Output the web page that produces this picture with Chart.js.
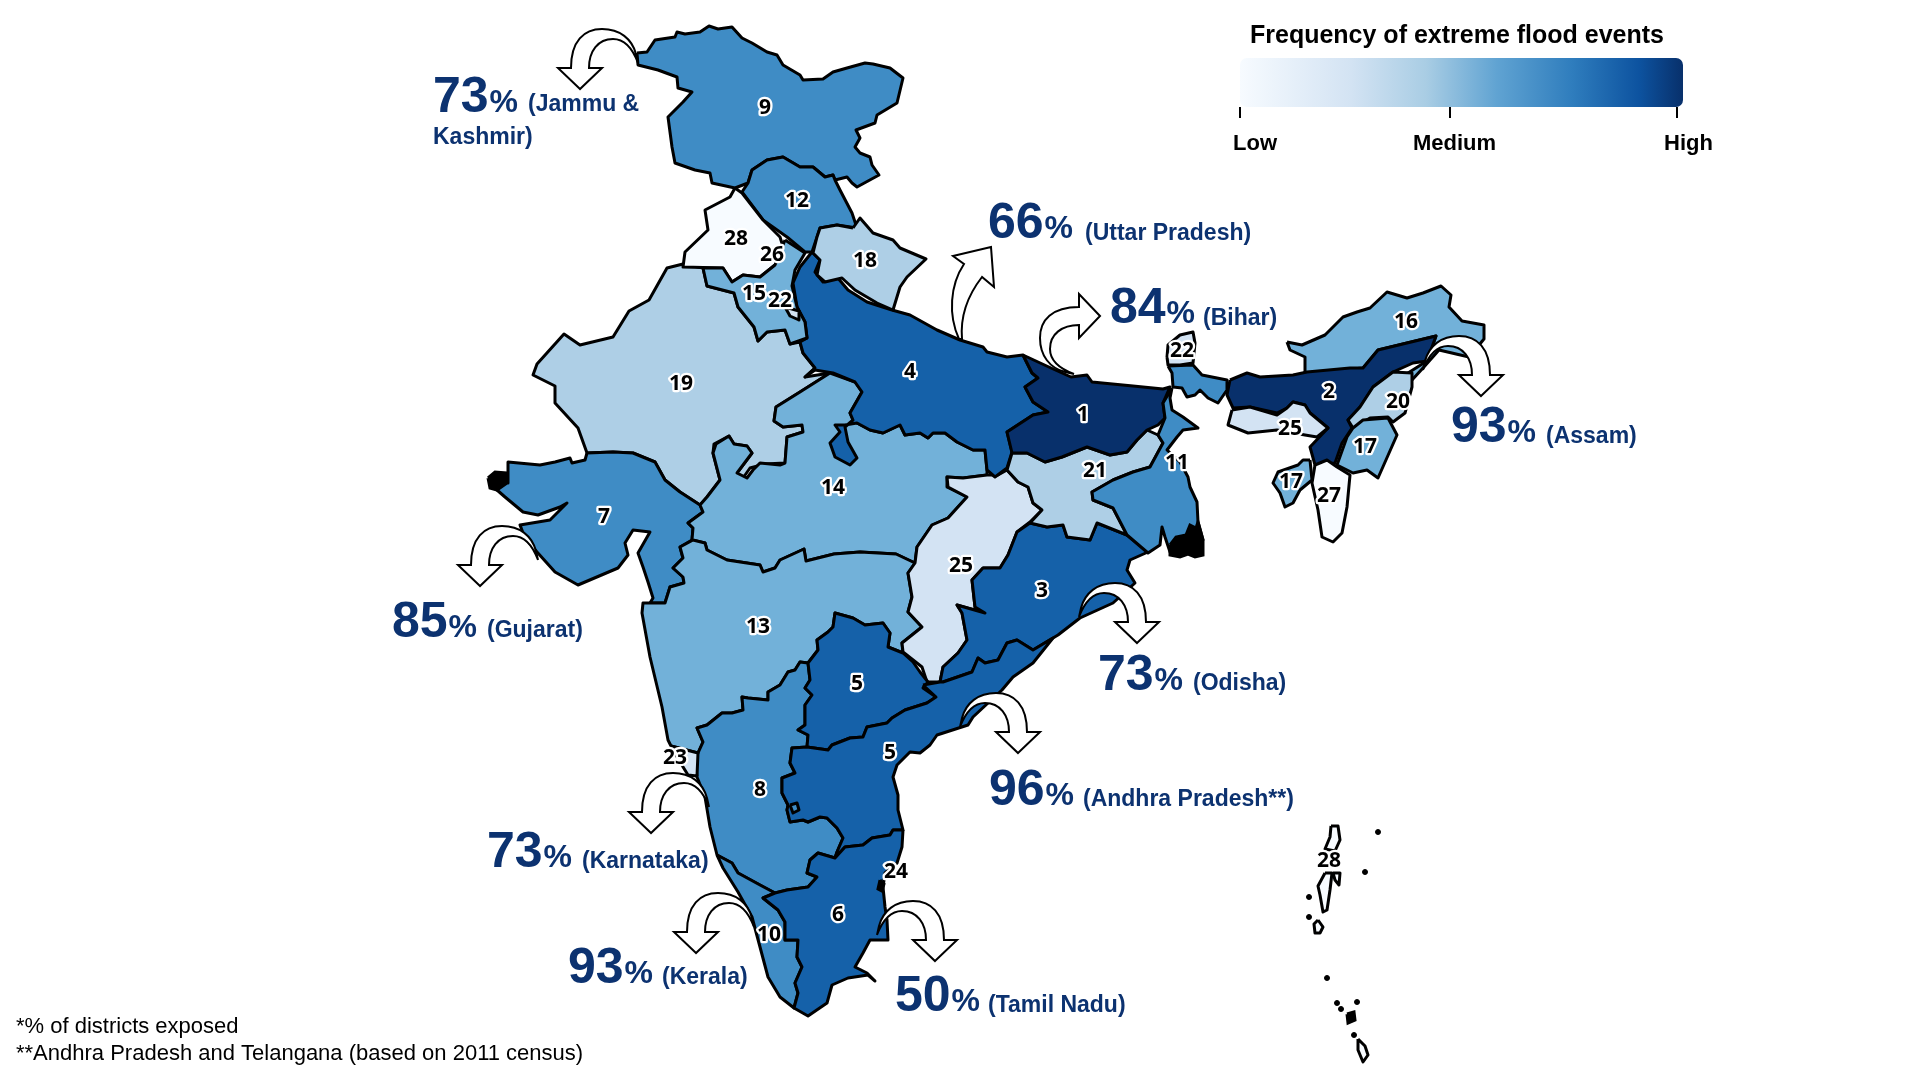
<!DOCTYPE html>
<html lang="en">
<head>
  <meta charset="UTF-8">
  <title>Frequency of extreme flood events</title>
  <script src="https://cdn.jsdelivr.net/npm/chart.js"></script>
  <style>
    html, body { margin: 0; padding: 0; background: #fff; }
    canvas { display: block; }
  </style>
</head>
<body>
  <canvas id="map" width="1932" height="1087"></canvas>
  <script>
    // state outlines, map units = 1932 x 1087 grid
    const jammuKashmir = [[637,53],[647,52],[655,40],[675,37],[677,32],[685,34],[700,32],[709,26],[718,29],[732,27],[742,38],[752,43],[767,52],[777,55],[783,65],[800,75],[803,80],[823,79],[833,72],[847,68],[865,63],[873,64],[890,68],[903,78],[897,103],[877,115],[875,123],[856,130],[860,138],[855,147],[860,153],[870,157],[872,165],[879,175],[857,187],[852,183],[847,177],[835,180],[833,175],[825,177],[813,167],[800,167],[783,157],[767,160],[752,170],[748,183],[735,188],[712,183],[710,173],[695,170],[675,163],[672,147],[668,117],[683,102],[692,92],[678,88],[677,77],[658,70],[638,65]];
    const himachal = [[752,170],[767,160],[783,157],[800,167],[813,167],[825,177],[833,175],[835,180],[840,190],[852,213],[857,228],[837,225],[820,228],[817,237],[812,252],[805,252],[787,237],[763,220],[742,192],[748,183]];
    const punjab = [[735,188],[742,193],[763,220],[780,237],[785,253],[775,265],[760,277],[743,275],[732,282],[723,268],[683,267],[685,252],[708,230],[705,210],[730,197]];
    const haryana = [[785,240],[805,253],[795,270],[792,286],[797,307],[805,322],[807,338],[790,344],[785,330],[767,332],[758,341],[754,327],[738,307],[734,293],[707,286],[703,268],[723,268],[732,282],[743,275],[760,277],[775,265]];
    const delhi = [[785,307],[799,311],[799,320],[790,316]];
    const uttarakhand = [[853,228],[860,218],[873,233],[893,240],[900,248],[926,259],[907,277],[900,287],[893,310],[877,303],[855,290],[842,278],[825,282],[817,275],[820,260],[813,253],[817,237],[820,228],[837,225]];
    const uttarPradesh = [[812,252],[820,260],[815,272],[823,282],[837,277],[848,290],[867,302],[892,310],[910,315],[937,330],[960,340],[983,347],[987,352],[1007,357],[1023,355],[1032,373],[1038,378],[1025,387],[1033,402],[1048,412],[1033,415],[1007,432],[1012,452],[1007,468],[995,477],[987,470],[985,450],[973,450],[957,442],[945,433],[933,433],[928,438],[920,433],[905,435],[900,425],[883,433],[870,430],[857,423],[845,425],[835,425],[840,432],[830,443],[835,457],[850,465],[857,458],[848,442],[845,427],[853,420],[850,413],[862,392],[855,382],[833,373],[815,370],[805,377],[815,368],[803,353],[800,342],[807,338],[805,322],[797,307],[793,283],[800,267]];
    const rajasthan = [[683,264],[703,268],[707,286],[734,293],[738,307],[754,327],[758,341],[767,332],[785,330],[790,344],[800,342],[803,353],[815,368],[805,377],[830,373],[800,392],[776,407],[774,421],[783,427],[802,425],[803,432],[787,437],[785,463],[765,464],[750,468],[743,478],[737,473],[752,453],[747,446],[734,444],[729,436],[714,444],[713,453],[720,480],[707,497],[700,505],[680,492],[665,480],[655,462],[633,453],[613,452],[587,453],[578,428],[555,403],[555,386],[533,375],[537,364],[564,334],[580,345],[613,337],[629,311],[649,300],[667,268]];
    const gujarat = [[587,453],[613,452],[633,453],[655,462],[665,480],[680,492],[700,505],[703,512],[688,523],[693,528],[692,540],[680,547],[683,558],[673,568],[683,577],[684,583],[670,587],[665,603],[650,603],[653,598],[648,582],[643,567],[638,553],[650,532],[633,530],[625,543],[628,555],[618,568],[578,585],[555,572],[537,552],[525,538],[520,525],[550,520],[560,510],[567,503],[560,507],[538,515],[523,512],[505,497],[497,490],[507,483],[508,462],[540,465],[555,462],[570,458],[572,463],[585,460]];
    const maharashtra = [[693,540],[705,543],[707,550],[727,560],[760,565],[763,572],[775,568],[780,560],[804,549],[806,561],[834,554],[860,552],[896,554],[915,563],[908,573],[912,597],[908,612],[922,627],[902,643],[903,653],[888,647],[890,633],[883,623],[865,625],[853,618],[835,613],[833,627],[828,632],[817,640],[818,650],[808,663],[800,662],[795,670],[788,672],[780,685],[768,692],[768,700],[748,698],[742,697],[743,710],[732,713],[722,713],[707,725],[697,728],[703,742],[698,753],[671,746],[668,740],[662,707],[650,657],[642,613],[643,603],[650,603],[665,603],[670,587],[684,583],[683,577],[673,568],[683,558],[680,547]];
    const madhyaPradesh = [[700,505],[707,497],[720,480],[713,453],[716,444],[729,436],[734,444],[747,446],[752,453],[737,473],[747,478],[753,470],[760,463],[780,465],[785,463],[787,437],[803,432],[802,425],[783,427],[774,421],[776,407],[800,392],[830,373],[855,382],[862,392],[850,413],[853,420],[857,423],[870,430],[883,433],[900,425],[905,435],[920,433],[928,438],[933,433],[945,433],[957,442],[973,450],[985,450],[987,470],[987,475],[963,478],[947,477],[947,487],[967,497],[948,518],[932,525],[917,547],[915,563],[896,554],[860,552],[834,554],[806,561],[804,549],[780,560],[775,568],[763,572],[760,565],[727,560],[707,550],[705,543],[692,540],[693,528],[688,523],[703,512]];
    const chhattisgarh = [[1007,470],[1018,482],[1028,487],[1033,503],[1042,510],[1030,522],[1017,532],[1008,555],[1000,568],[983,568],[972,580],[975,607],[985,613],[957,605],[962,613],[967,640],[958,653],[943,667],[940,682],[927,682],[922,667],[903,652],[902,643],[922,627],[908,612],[912,597],[908,573],[915,563],[917,547],[932,525],[948,518],[967,497],[948,487],[947,477],[963,478],[987,475],[998,475]];
    const odisha = [[1030,523],[1047,527],[1063,525],[1067,537],[1090,540],[1097,523],[1107,527],[1127,535],[1148,552],[1130,560],[1127,570],[1135,583],[1113,603],[1080,618],[1058,635],[1053,638],[1033,650],[1017,640],[1007,643],[998,660],[985,663],[978,658],[972,672],[943,682],[940,682],[943,667],[958,653],[967,640],[962,613],[957,605],[985,613],[975,607],[972,580],[983,568],[1000,568],[1008,555],[1017,532]];
    const jharkhand = [[1012,453],[1027,453],[1045,462],[1062,457],[1087,447],[1110,455],[1127,452],[1137,440],[1147,430],[1158,435],[1163,443],[1150,467],[1133,472],[1113,480],[1092,492],[1093,500],[1113,508],[1127,535],[1107,527],[1097,523],[1090,540],[1067,537],[1063,525],[1047,527],[1030,523],[1042,510],[1033,503],[1028,487],[1018,482],[1007,470]];
    const bihar = [[1023,355],[1051,368],[1071,377],[1087,375],[1092,382],[1133,386],[1163,389],[1170,387],[1163,403],[1165,418],[1158,425],[1147,430],[1137,440],[1127,452],[1110,455],[1087,447],[1062,457],[1045,462],[1027,453],[1012,453],[1007,432],[1033,415],[1048,412],[1033,402],[1025,387],[1038,378],[1032,373]];
    const westBengal = [[1172,388],[1170,398],[1172,410],[1183,417],[1198,428],[1183,430],[1177,437],[1167,450],[1180,462],[1188,477],[1190,487],[1197,502],[1198,522],[1203,540],[1170,552],[1165,537],[1162,527],[1160,545],[1148,553],[1127,535],[1113,508],[1093,500],[1092,492],[1113,480],[1133,472],[1150,467],[1163,443],[1158,435],[1165,418],[1163,403]];
    const darjeeling = [[1168,366],[1193,365],[1202,375],[1227,380],[1227,390],[1218,403],[1208,398],[1200,390],[1195,395],[1187,397],[1182,388],[1173,387],[1172,373]];
    const sikkim = [[1167,357],[1168,345],[1180,335],[1193,332],[1195,343],[1193,363],[1180,365],[1168,365]];
    const assam = [[1230,380],[1247,373],[1260,377],[1293,375],[1307,372],[1350,368],[1363,368],[1378,350],[1436,336],[1427,361],[1413,363],[1393,372],[1373,387],[1360,407],[1348,420],[1352,428],[1342,443],[1335,463],[1315,465],[1310,447],[1328,428],[1310,413],[1305,405],[1293,402],[1287,408],[1277,413],[1250,407],[1233,408],[1227,395]];
    const meghalaya = [[1232,410],[1250,407],[1277,415],[1287,408],[1293,402],[1305,405],[1310,413],[1328,428],[1317,437],[1305,435],[1277,430],[1248,433],[1228,425]];
    const arunachal = [[1287,342],[1302,345],[1325,335],[1343,317],[1357,312],[1370,308],[1387,292],[1407,298],[1423,293],[1441,286],[1451,295],[1449,307],[1462,321],[1484,325],[1484,339],[1469,357],[1439,350],[1423,368],[1412,380],[1408,373],[1427,361],[1436,336],[1378,350],[1363,368],[1305,373],[1305,357],[1290,350]];
    const nagaland = [[1412,373],[1412,387],[1405,413],[1393,422],[1388,417],[1370,418],[1353,428],[1348,420],[1360,407],[1373,387],[1393,372]];
    const manipur = [[1353,428],[1363,420],[1388,418],[1397,435],[1378,478],[1367,470],[1353,473],[1337,465],[1347,437]];
    const mizoram = [[1315,465],[1327,460],[1337,467],[1350,475],[1347,507],[1342,533],[1333,542],[1322,537],[1318,510],[1312,483]];
    const tripura = [[1310,460],[1312,480],[1300,490],[1293,503],[1285,507],[1280,493],[1273,483],[1278,472],[1298,465],[1303,460]];
    const telangana = [[936,697],[927,703],[905,710],[892,718],[887,723],[867,727],[863,737],[850,738],[832,745],[828,750],[807,747],[808,735],[798,730],[805,725],[805,705],[812,695],[805,688],[810,680],[808,663],[818,650],[817,640],[828,632],[833,627],[835,613],[853,618],[865,625],[883,623],[890,633],[888,647],[903,653],[913,662],[920,672],[928,682],[923,688]];
    const andhra = [[923,685],[940,682],[943,682],[972,672],[978,658],[985,663],[998,660],[1007,643],[1017,640],[1033,650],[1053,638],[1033,663],[1013,677],[1002,690],[973,717],[968,725],[937,735],[930,745],[920,753],[910,752],[897,765],[893,777],[898,795],[898,810],[903,830],[893,830],[890,835],[872,838],[863,845],[845,847],[835,858],[837,852],[843,838],[837,828],[827,818],[820,817],[808,822],[803,820],[790,822],[787,810],[788,805],[782,793],[782,778],[795,773],[790,763],[792,748],[807,747],[828,750],[832,745],[850,738],[863,737],[867,727],[887,723],[892,718],[905,710],[927,703],[936,697]];
    const karnataka = [[808,663],[810,680],[805,688],[812,695],[805,705],[805,725],[798,730],[808,735],[807,747],[792,748],[790,763],[795,773],[782,778],[782,793],[788,805],[787,810],[790,822],[803,820],[808,822],[820,817],[827,818],[837,828],[843,838],[837,852],[835,858],[818,853],[810,860],[807,873],[817,877],[808,887],[787,890],[775,893],[760,885],[738,873],[732,863],[717,855],[710,827],[705,797],[697,777],[695,757],[698,753],[703,742],[697,728],[707,725],[722,713],[732,713],[743,710],[742,697],[748,698],[768,700],[768,692],[780,685],[788,672],[795,670],[800,662]];
    const kolar = [[790,805],[797,803],[799,810],[793,813]];
    const goa = [[671,746],[698,753],[697,776],[688,775],[680,762]];
    const kerala = [[717,855],[732,863],[738,873],[760,885],[775,893],[763,898],[778,910],[785,922],[785,940],[798,940],[797,957],[802,967],[795,983],[798,993],[794,1008],[780,997],[768,977],[760,947],[752,917],[738,892],[723,868]];
    const tamilNadu = [[903,830],[902,847],[897,863],[885,873],[883,887],[885,907],[887,920],[888,940],[870,940],[863,953],[855,967],[867,973],[875,981],[868,975],[848,978],[832,985],[827,1003],[808,1016],[794,1008],[798,993],[795,983],[802,967],[797,957],[798,940],[785,940],[785,922],[778,910],[763,898],[775,893],[787,890],[808,887],[817,877],[807,873],[810,860],[818,853],[835,858],[845,847],[863,845],[872,838],[890,835],[893,830]];
    const northAndaman = [[1331,826],[1338,826],[1340,840],[1335,851],[1325,849],[1330,837]];
    const southAndaman = [[1325,873],[1332,873],[1330,890],[1327,910],[1323,912],[1320,895],[1318,886]];
    const ritchie = [[1333,873],[1340,873],[1339,885],[1335,880]];
    const littleAndaman = [[1318,920],[1323,927],[1320,933],[1315,933],[1314,924]];
    const greatNicobar = [[1358,1039],[1365,1046],[1368,1055],[1363,1062],[1358,1050]];

    // blobs that are solid black in the picture
    const kutchCoast = [[488,478],[495,472],[506,473],[507,480],[497,490],[490,488]];
    const sunderbans = [[1170,545],[1176,537],[1186,535],[1190,525],[1196,528],[1198,522],[1203,540],[1203,555],[1195,557],[1188,554],[1180,557],[1170,555]];
    const puducherry = [[880,880],[884,884],[882,891],[878,889]];
    const nicobarBlob = [[1347,1014],[1354,1012],[1355,1020],[1348,1023]];
    const islandDots = [[1378,832],[1365,872],[1309,897],[1309,917],[1327,978],[1337,1003],[1341,1009],[1357,1002],[1354,1035]];

    const rankColors = { 1:'#08306b', 2:'#08306b', 3:'#1561a9', 4:'#1561a9', 5:'#1561a9', 6:'#1561a9', 7:'#3f8cc5', 8:'#3f8cc5', 9:'#3f8cc5', 10:'#3f8cc5', 11:'#3f8cc5', 12:'#3f8cc5', 13:'#72b1d9', 14:'#72b1d9', 15:'#72b1d9', 16:'#72b1d9', 17:'#72b1d9', 18:'#aecfe6', 19:'#aecfe6', 20:'#aecfe6', 21:'#aecfe6', 22:'#d3e3f3', 23:'#d3e3f3', 24:'#d3e3f3', 25:'#d3e3f3', 26:'#f7fbff', 27:'#f7fbff', 28:'#f7fbff' };

    const stateShapes = [rajasthan, gujarat, madhyaPradesh, maharashtra, chhattisgarh, uttarPradesh, jammuKashmir, himachal, punjab, haryana, delhi, uttarakhand, odisha, jharkhand, bihar, westBengal, darjeeling, sikkim, arunachal, assam, meghalaya, nagaland, manipur, mizoram, tripura, karnataka, telangana, andhra, kolar, goa, kerala, tamilNadu, northAndaman, southAndaman, ritchie, littleAndaman, greatNicobar];
    const stateRanks = [19, 7, 14, 13, 25, 4, 9, 12, 28, 15, 22, 18, 3, 21, 1, 11, 11, 22, 16, 2, 25, 20, 17, 27, 17, 8, 5, 5, 8, 23, 10, 6, 28, 28, 28, 28, 28];
    const blackShapes = [kutchCoast, sunderbans, puducherry, nicobarBlob];

    // rank labels on the map
    const labelText = ['9','12','28','26','18','15','22','19','4','1','22','16','2','20','25','17','11','21','17','27','14','7','25','3','13','5','5','23','8','24','6','10','28'];
    const labelX = [765,797,736,772,865,754,780,681,910,1083,1182,1406,1329,1398,1290,1365,1177,1095,1291,1329,833,604,961,1042,758,857,890,675,760,896,838,769,1329];
    const labelY = [108,201,239,255,261,294,301,384,372,415,351,322,392,402,429,447,463,471,482,496,488,517,566,591,627,684,753,758,790,872,915,935,861];

    // callouts
    const calloutValues = [73, 66, 84, 93, 85, 73, 96, 73, 93, 50];
    const calloutNames = ['(Jammu &','(Uttar Pradesh)','(Bihar)','(Assam)','(Gujarat)','(Odisha)','(Andhra Pradesh**)','(Karnataka)','(Kerala)','(Tamil Nadu)'];
    const calloutX = [433,988,1110,1451,392,1098,989,487,568,895];
    const calloutY = [112,238,323,442,637,690,805,867,983,1011];
    const calloutNameX = [528,1085,1203,1546,487,1193,1083,582,662,988];
    const calloutNameY = [111,240,325,443,637,690,806,868,984,1012];

    // tip of each curved arrow, side = 1 tail to the right, -1 tail to the left
    const arrowTipX = [580,480,651,696,1481,1137,1018,935];
    const arrowTipY = [89,586,833,953,396,643,753,961];
    const arrowSide = [1,1,1,1,-1,-1,-1,-1];

    const legendTitle = 'Frequency of extreme flood events';
    const legendTicks = ['Low','Medium','High'];
    const legendTickX = [1240,1450,1677];
    const legendLabelX = [1233,1413,1664];
    const legendStops = [[0,'#f7fbff'],[0.25,'#d3e3f3'],[0.42,'#a9cde4'],[0.58,'#60a3d2'],[0.75,'#2f7dbd'],[0.9,'#0d53a0'],[1,'#08306b']];
    const footnotes = ['*% of districts exposed','**Andhra Pradesh and Telangana (based on 2011 census)'];

    const NAVY = '#0c3270';

    function toPoints(shape) {
      const pts = shape.map(p => ({ x: p[0], y: p[1] }));
      pts.push({ x: shape[0][0], y: shape[0][1] });
      return pts;
    }

    const datasets = [];
    stateShapes.forEach((shape, i) => {
      datasets.push({
        data: toPoints(shape),
        showLine: true,
        fill: 'shape',
        backgroundColor: rankColors[stateRanks[i]],
        borderColor: '#000',
        borderWidth: 3,
        borderJoinStyle: 'round',
        tension: 0,
        pointRadius: 0,
        order: 10 - i / 100
      });
    });
    blackShapes.forEach(shape => {
      datasets.push({
        data: toPoints(shape),
        showLine: true,
        fill: 'shape',
        backgroundColor: '#000',
        borderColor: '#000',
        borderWidth: 3,
        tension: 0,
        pointRadius: 0,
        order: 1
      });
    });
    datasets.push({
      data: islandDots.map(p => ({ x: p[0], y: p[1] })),
      showLine: false,
      backgroundColor: '#000',
      borderColor: '#000',
      pointRadius: 2.5,
      order: 1
    });

    function curvedArrow(ctx) {
      ctx.beginPath();
      ctx.moveTo(0, 0);
      ctx.lineTo(-22, -21);
      ctx.lineTo(-9, -21);
      ctx.bezierCurveTo(-9, -48, 4, -60, 22, -60);
      ctx.bezierCurveTo(40, -60, 52, -50, 56, -35);
      ctx.lineTo(58, -26);
      ctx.bezierCurveTo(52, -42, 44, -50, 33, -50);
      ctx.bezierCurveTo(18, -50, 9, -38, 9, -21);
      ctx.lineTo(22, -21);
      ctx.closePath();
      ctx.fillStyle = '#fff';
      ctx.fill();
      ctx.stroke();
    }

    const annotations = {
      id: 'annotations',
      afterDatasetsDraw(chart) {
        const ctx = chart.ctx;
        const sx = chart.scales.x, sy = chart.scales.y;
        const px = v => sx.getPixelForValue(v), py = v => sy.getPixelForValue(v);

        // arrows
        ctx.save();
        ctx.strokeStyle = '#000';
        ctx.lineWidth = 2;
        ctx.lineJoin = 'miter';
        arrowTipX.forEach((x, i) => {
          ctx.save();
          ctx.translate(px(x), py(arrowTipY[i]));
          ctx.scale(arrowSide[i], 1);
          curvedArrow(ctx);
          ctx.restore();
        });
        // Bihar arrow points right
        ctx.save();
        ctx.translate(px(1100), py(316));
        ctx.transform(0, 1, 1, 0, 0, 0);
        curvedArrow(ctx);
        ctx.restore();
        // Uttar Pradesh arrow points up
        ctx.beginPath();
        ctx.moveTo(px(991), py(247));
        ctx.lineTo(px(953), py(256));
        ctx.lineTo(px(964), py(264));
        ctx.bezierCurveTo(px(950), py(285), px(948), py(315), px(959), py(339));
        ctx.lineTo(px(962), py(339));
        ctx.bezierCurveTo(px(960), py(315), px(968), py(295), px(982), py(277));
        ctx.lineTo(px(994), py(287));
        ctx.closePath();
        ctx.fillStyle = '#fff';
        ctx.fill();
        ctx.stroke();
        ctx.restore();

        // rank labels
        ctx.save();
        ctx.font = 'bold 21px "Open Sans"';
        ctx.textAlign = 'center';
        ctx.textBaseline = 'middle';
        ctx.lineJoin = 'round';
        labelText.forEach((t, i) => {
          ctx.lineWidth = 4.5;
          ctx.strokeStyle = '#fff';
          ctx.strokeText(t, px(labelX[i]), py(labelY[i]));
          ctx.fillStyle = '#000';
          ctx.fillText(t, px(labelX[i]), py(labelY[i]));
        });
        ctx.restore();

        // callouts
        ctx.save();
        ctx.fillStyle = NAVY;
        ctx.textBaseline = 'alphabetic';
        calloutValues.forEach((v, i) => {
          ctx.font = 'bold 50px "Liberation Sans"';
          const text = String(v);
          ctx.fillText(text, px(calloutX[i]), py(calloutY[i]));
          const w = ctx.measureText(text).width;
          ctx.font = 'bold 32px "Liberation Sans"';
          ctx.fillText('%', px(calloutX[i]) + w + 1, py(calloutY[i]));
          ctx.font = 'bold 23px "Liberation Sans"';
          ctx.fillText(calloutNames[i], px(calloutNameX[i]), py(calloutNameY[i]));
        });
        ctx.fillText('Kashmir)', px(433), py(144));
        ctx.restore();

        // colour legend
        ctx.save();
        const grad = ctx.createLinearGradient(px(1240), 0, px(1683), 0);
        legendStops.forEach(s => grad.addColorStop(s[0], s[1]));
        ctx.fillStyle = grad;
        ctx.beginPath();
        ctx.roundRect(px(1240), py(58), px(1683) - px(1240), py(107) - py(58), 7);
        ctx.fill();
        ctx.strokeStyle = '#000';
        ctx.lineWidth = 2;
        legendTickX.forEach(x => {
          ctx.beginPath();
          ctx.moveTo(px(x), py(107));
          ctx.lineTo(px(x), py(118));
          ctx.stroke();
        });
        ctx.fillStyle = '#000';
        ctx.font = 'bold 25px "Liberation Sans"';
        ctx.fillText(legendTitle, px(1250), py(43));
        ctx.font = 'bold 22px "Liberation Sans"';
        legendTicks.forEach((t, i) => ctx.fillText(t, px(legendLabelX[i]), py(150)));

        // footnotes
        ctx.font = '22px "Liberation Sans"';
        ctx.fillText(footnotes[0], px(16), py(1033));
        ctx.fillText(footnotes[1], px(16), py(1060));
        ctx.restore();
      }
    };

    new Chart(document.getElementById('map').getContext('2d'), {
      type: 'scatter',
      data: { datasets },
      options: {
        responsive: false,
        animation: false,
        devicePixelRatio: 1,
        layout: { padding: 0, autoPadding: false },
        plugins: { legend: { display: false }, tooltip: { enabled: false } },
        scales: {
          x: { type: 'linear', min: 0, max: 1932, display: false },
          y: { type: 'linear', min: 0, max: 1087, reverse: true, display: false }
        }
      },
      plugins: [annotations]
    });
  </script>
</body>
</html>
